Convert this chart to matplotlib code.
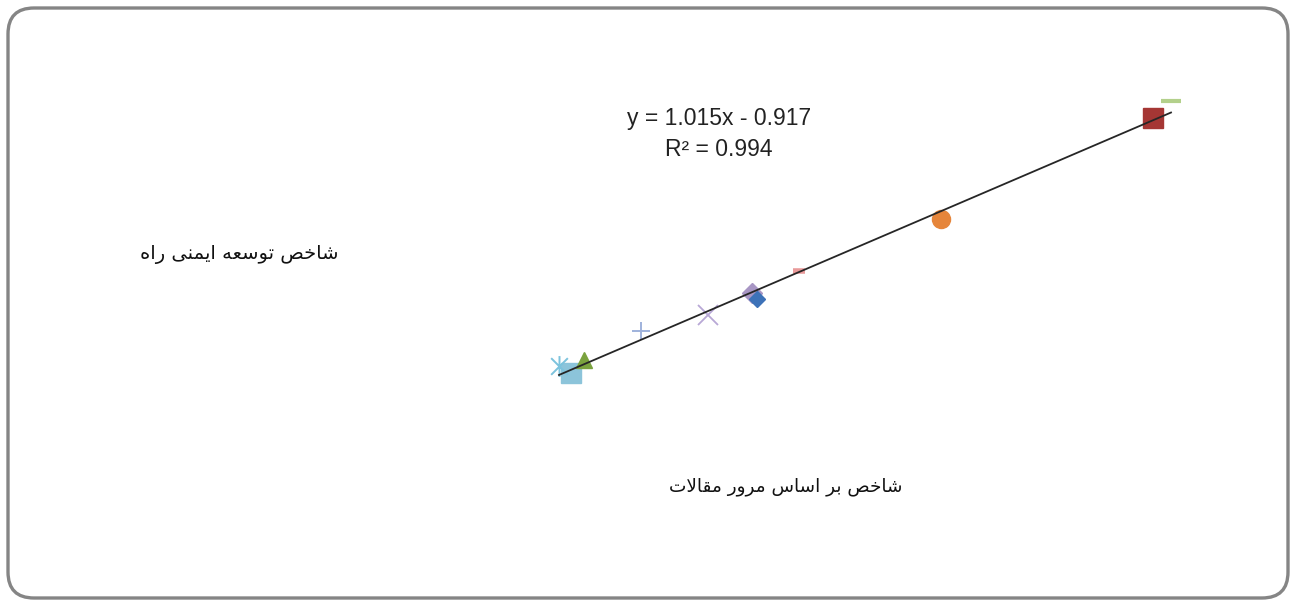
import numpy as np
import matplotlib
matplotlib.use("Agg")
import matplotlib.pyplot as plt
from matplotlib.patches import FancyBboxPatch
from matplotlib.path import Path
from matplotlib.transforms import IdentityTransform

# ---------------- data ----------------
x_title = "شاخص بر اساس مرور مقالات"
y_title = "شاخص توسعه ایمنی راه"
slope = 1.015
intercept = -0.917
r2 = 0.994

# series (one point each), x and y values
x_vals = [3.485, 5.465, 2.62, 3.24, 2.495, 4.405, 2.905, 5.555, 3.695, 3.46, 2.555]
y_vals = [2.514, 4.656, 1.793, 2.325, 1.722, 3.461, 2.136, 4.857, 2.846, 2.585, 1.639]
series_colors = ["#3d72b8", "#a53634", "#7aa23e", "#b8a8d6", "#7cc3dd", "#e6853a",
                 "#9fb2dc", "#b3d08b", "#e99a9a", "#a896c4", "#8cc4da"]

# ---------------- simple Arabic/Persian shaping ----------------
FORMS = {
    '\u0627': ('\uFE8D', '\uFE8E', None, None),
    '\u0628': ('\uFE8F', '\uFE90', '\uFE91', '\uFE92'),
    '\u062A': ('\uFE95', '\uFE96', '\uFE97', '\uFE98'),
    '\u062E': ('\uFEA5', '\uFEA6', '\uFEA7', '\uFEA8'),
    '\u0631': ('\uFEAD', '\uFEAE', None, None),
    '\u0633': ('\uFEB1', '\uFEB2', '\uFEB3', '\uFEB4'),
    '\u0634': ('\uFEB5', '\uFEB6', '\uFEB7', '\uFEB8'),
    '\u0635': ('\uFEB9', '\uFEBA', '\uFEBB', '\uFEBC'),
    '\u0639': ('\uFEC9', '\uFECA', '\uFECB', '\uFECC'),
    '\u0642': ('\uFED5', '\uFED6', '\uFED7', '\uFED8'),
    '\u0644': ('\uFEDD', '\uFEDE', '\uFEDF', '\uFEE0'),
    '\u0645': ('\uFEE1', '\uFEE2', '\uFEE3', '\uFEE4'),
    '\u0646': ('\uFEE5', '\uFEE6', '\uFEE7', '\uFEE8'),
    '\u0647': ('\uFEE9', '\uFEEA', '\uFEEB', '\uFEEC'),
    '\u0648': ('\uFEED', '\uFEEE', None, None),
    '\u06CC': ('\uFBFC', '\uFBFD', '\uFBFE', '\uFBFF'),
}


def shape(text):
    chars = list(text)
    n = len(chars)
    out = []
    i = 0
    while i < n:
        c = chars[i]
        if c not in FORMS:
            out.append(c)
            i += 1
            continue
        prev = chars[i - 1] if i > 0 else None
        join_prev = prev in FORMS and FORMS[prev][2] is not None
        if c == '\u0644' and i + 1 < n and chars[i + 1] == '\u0627':
            out.append('\uFEFC' if join_prev else '\uFEFB')
            i += 2
            continue
        iso, fin, ini, med = FORMS[c]
        nxt = chars[i + 1] if i + 1 < n else None
        join_next = ini is not None and nxt in FORMS
        if join_prev and join_next:
            out.append(med)
        elif join_prev:
            out.append(fin)
        elif join_next:
            out.append(ini)
        else:
            out.append(iso)
        i += 1
    return ''.join(reversed(out))


# ---------------- figure ----------------
W, H = 1297, 604
fig = plt.figure(figsize=(W / 100, H / 100), dpi=100)
fig.patch.set_facecolor("white")

# rounded chart border (pixel coordinates)
border = FancyBboxPatch((8, 6), W - 17, H - 14,
                        boxstyle="round,pad=0,rounding_size=26",
                        transform=IdentityTransform(), fill=False,
                        edgecolor="#858585", linewidth=2.4, zorder=0)
fig.patches.append(border)

ax = fig.add_axes([0, 0, 1, 1])
ax.set_xlim(-0.3, 6.185)
ax.set_ylim(-1.095, 6.053)
ax.axis("off")

# custom asterisk marker (X + vertical bar)
ast = Path([(-1, -1), (1, 1), (-1, 1), (1, -1), (0, -1.25), (0, 1.25)],
           [Path.MOVETO, Path.LINETO, Path.MOVETO, Path.LINETO, Path.MOVETO, Path.LINETO])

styles = [
    dict(marker="D", ms=8.5, filled=True),
    dict(marker="s", ms=14.5, filled=True),
    dict(marker="^", ms=12, filled=True),
    dict(marker="x", ms=15, mew=1.3, filled=False),
    dict(marker=ast, ms=15, mew=1.4, filled=False),
    dict(marker="o", ms=13, filled=True),
    dict(marker="+", ms=13.5, mew=1.4, filled=False),
    dict(marker="_", ms=14, mew=3.0, filled=False),
    dict(marker="_", ms=8, mew=4.0, filled=False),
    dict(marker="D", ms=10, filled=True),
    dict(marker="s", ms=14, filled=True),
]

draw_order = [10, 4, 2, 6, 3, 9, 0, 8, 5, 1, 7]
for k in draw_order:
    st = styles[k]
    col = series_colors[k]
    if st["filled"]:
        ax.plot([x_vals[k]], [y_vals[k]], linestyle="none", marker=st["marker"],
                ms=st["ms"], color=col, markeredgecolor=col, zorder=2)
    else:
        ax.plot([x_vals[k]], [y_vals[k]], linestyle="none", marker=st["marker"],
                ms=st["ms"], mew=st["mew"], color=col, zorder=2)

# linear trendline over data range
xs = np.array([min(x_vals), max(x_vals)])
ax.plot(xs, slope * xs + intercept, color="#262626", lw=1.3, zorder=3)

# equation text
ax.text(719 / W, 1 - 118 / H, f"y = {slope:.3f}x - {abs(intercept):.3f}",
        transform=fig.transFigure, ha="center", va="center",
        fontsize=16.5, family="Liberation Sans", color="#222222")
ax.text(719 / W, 1 - 150 / H, f"R² = {r2:.3f}",
        transform=fig.transFigure, ha="center", va="center",
        fontsize=16.5, family="Liberation Sans", color="#222222")

# axis titles
fig.text(239 / W, 1 - 254 / H, shape(y_title), ha="center", va="center",
         fontsize=14, family="DejaVu Sans", color="#111111")
fig.text(786 / W, 1 - 487 / H, shape(x_title), ha="center", va="center",
         fontsize=13.3, family="DejaVu Sans", color="#111111")

fig.savefig("out.png", dpi=100)
